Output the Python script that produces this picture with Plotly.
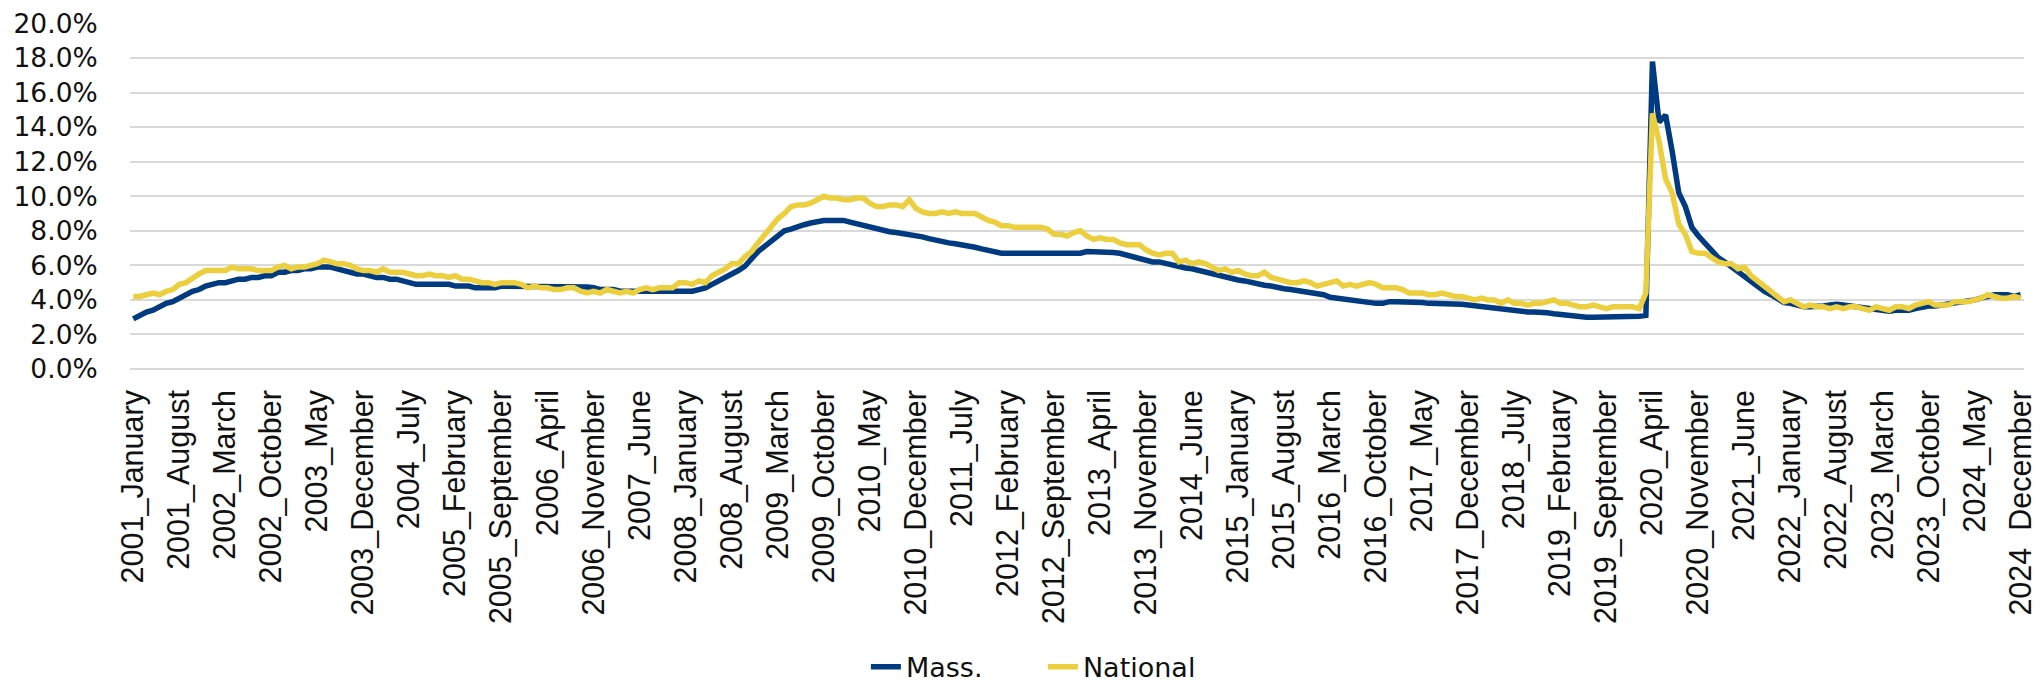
import plotly.graph_objects as go

# Axis categories
years = list(range(2001, 2025))
month_names = [
    "January", "February", "March", "April", "May", "June",
    "July", "August", "September", "October", "November", "December",
]

# Unemployment rate (%), one row per year, January..December
mass_rate = [
    2.9, 3.1, 3.3, 3.4, 3.6, 3.8, 3.9, 4.1, 4.3, 4.5, 4.6, 4.8,  # 2001
    4.9, 5.0, 5.0, 5.1, 5.2, 5.2, 5.3, 5.3, 5.4, 5.4, 5.6, 5.6,  # 2002
    5.7, 5.7, 5.8, 5.8, 5.9, 5.9, 5.9, 5.8, 5.7, 5.6, 5.5, 5.5,  # 2003
    5.4, 5.3, 5.3, 5.2, 5.2, 5.1, 5.0, 4.9, 4.9, 4.9, 4.9, 4.9,  # 2004
    4.9, 4.8, 4.8, 4.8, 4.7, 4.7, 4.7, 4.7, 4.8, 4.8, 4.8, 4.8,  # 2005
    4.75, 4.75, 4.75, 4.75, 4.75, 4.75, 4.75, 4.75, 4.75, 4.75, 4.7, 4.6,  # 2006
    4.6, 4.6, 4.5, 4.5, 4.5, 4.5, 4.5, 4.5, 4.5, 4.5, 4.5, 4.5,  # 2007
    4.5, 4.5, 4.6, 4.7, 4.9, 5.1, 5.25, 5.45, 5.7, 5.95, 6.4, 6.8,  # 2008
    7.1, 7.4, 7.7, 8.0, 8.1, 8.25, 8.35, 8.45, 8.55, 8.6, 8.6, 8.6,  # 2009
    8.6, 8.5, 8.4, 8.3, 8.2, 8.1, 8.0, 7.95, 7.9, 7.85, 7.8, 7.7,  # 2010
    7.65, 7.55, 7.45, 7.4, 7.3, 7.25, 7.2, 7.12, 7.05, 6.95, 6.85, 6.75,  # 2011
    6.7, 6.7, 6.7, 6.7, 6.7, 6.7, 6.7, 6.7, 6.7, 6.7, 6.7, 6.7,  # 2012
    6.7, 6.8, 6.8, 6.8, 6.8, 6.75, 6.7, 6.6, 6.5, 6.4, 6.3, 6.2,  # 2013
    6.2, 6.1, 6.0, 5.9, 5.85, 5.8, 5.7, 5.6, 5.5, 5.4, 5.3, 5.2,  # 2014
    5.15, 5.1, 5.0, 4.95, 4.85, 4.8, 4.7, 4.65, 4.6, 4.55, 4.5, 4.45,  # 2015
    4.4, 4.3, 4.15, 4.1, 4.0, 3.95, 3.9, 3.85, 3.8, 3.8, 3.8, 3.9,  # 2016
    3.9, 3.9, 3.9, 3.9, 3.85, 3.8, 3.8, 3.8, 3.8, 3.8, 3.75, 3.7,  # 2017
    3.65, 3.6, 3.6, 3.55, 3.5, 3.45, 3.4, 3.35, 3.3, 3.3, 3.3, 3.25,  # 2018
    3.2, 3.15, 3.1, 3.05, 3.0, 3.0, 3.0, 3.0, 3.0, 3.0, 3.0, 3.0,  # 2019
    3.0, 3.05, 3.1, 17.8, 14.3, 14.7, 12.6, 10.2, 9.4, 8.2, 7.7, 7.3,  # 2020
    6.8, 6.45, 6.2, 5.9, 5.6, 5.4, 5.1, 4.8, 4.5, 4.3, 4.1, 3.85,  # 2021
    3.8, 3.7, 3.6, 3.6, 3.6, 3.65, 3.7, 3.75, 3.7, 3.65, 3.65, 3.6,  # 2022
    3.55, 3.5, 3.4, 3.35, 3.4, 3.4, 3.4, 3.5, 3.6, 3.65, 3.65, 3.7,  # 2023
    3.75, 3.8, 3.85, 3.9, 4.0, 4.1, 4.2, 4.3, 4.3, 4.3, 4.2, 4.3,  # 2024
]

national_rate = [
    4.2, 4.2, 4.3, 4.4, 4.3, 4.5, 4.6, 4.9, 5.0, 5.3, 5.5, 5.7,  # 2001
    5.7, 5.7, 5.7, 5.9, 5.8, 5.8, 5.8, 5.7, 5.7, 5.7, 5.9, 6.0,  # 2002
    5.8, 5.9, 5.9, 6.0, 6.1, 6.3, 6.2, 6.1, 6.1, 6.0, 5.8, 5.7,  # 2003
    5.7, 5.6, 5.8, 5.6, 5.6, 5.6, 5.5, 5.4, 5.4, 5.5, 5.4, 5.4,  # 2004
    5.3, 5.4, 5.2, 5.2, 5.1, 5.0, 5.0, 4.9, 5.0, 5.0, 5.0, 4.9,  # 2005
    4.7, 4.8, 4.7, 4.7, 4.6, 4.6, 4.7, 4.7, 4.5, 4.4, 4.5, 4.4,  # 2006
    4.6, 4.5, 4.4, 4.5, 4.4, 4.6, 4.7, 4.6, 4.7, 4.7, 4.7, 5.0,  # 2007
    5.0, 4.9, 5.1, 5.0, 5.4, 5.6, 5.8, 6.1, 6.1, 6.5, 6.8, 7.3,  # 2008
    7.8, 8.3, 8.7, 9.0, 9.4, 9.5, 9.5, 9.6, 9.8, 10.0, 9.9, 9.9,  # 2009
    9.8, 9.8, 9.9, 9.9, 9.6, 9.4, 9.4, 9.5, 9.5, 9.4, 9.8, 9.3,  # 2010
    9.1, 9.0, 9.0, 9.1, 9.0, 9.1, 9.0, 9.0, 9.0, 8.8, 8.6, 8.5,  # 2011
    8.3, 8.3, 8.2, 8.2, 8.2, 8.2, 8.2, 8.1, 7.8, 7.8, 7.7, 7.9,  # 2012
    8.0, 7.7, 7.5, 7.6, 7.5, 7.5, 7.3, 7.2, 7.2, 7.2, 6.9, 6.7,  # 2013
    6.6, 6.7, 6.7, 6.2, 6.3, 6.1, 6.2, 6.1, 5.9, 5.7, 5.8, 5.6,  # 2014
    5.7, 5.5, 5.4, 5.4, 5.6, 5.3, 5.2, 5.1, 5.0, 5.0, 5.1, 5.0,  # 2015
    4.8, 4.9, 5.0, 5.1, 4.8, 4.9, 4.8, 4.9, 5.0, 4.9, 4.7, 4.7,  # 2016
    4.7, 4.6, 4.4, 4.4, 4.4, 4.3, 4.3, 4.4, 4.3, 4.2, 4.2, 4.1,  # 2017
    4.0, 4.1, 4.0, 4.0, 3.8, 4.0, 3.8, 3.8, 3.7, 3.8, 3.8, 3.9,  # 2018
    4.0, 3.8, 3.8, 3.7, 3.6, 3.6, 3.7, 3.6, 3.5, 3.6, 3.6, 3.6,  # 2019
    3.6, 3.5, 4.4, 14.8, 13.2, 11.0, 10.2, 8.4, 7.8, 6.8, 6.7, 6.7,  # 2020
    6.4, 6.2, 6.1, 6.1, 5.8, 5.9, 5.4, 5.1, 4.7, 4.5, 4.2, 3.9,  # 2021
    4.0, 3.8, 3.6, 3.7, 3.6, 3.6, 3.5, 3.6, 3.5, 3.6, 3.6, 3.5,  # 2022
    3.4, 3.6, 3.5, 3.4, 3.6, 3.6, 3.5, 3.7, 3.8, 3.9, 3.7, 3.7,  # 2023
    3.7, 3.9, 3.9, 3.9, 4.0, 4.1, 4.3, 4.2, 4.1, 4.1, 4.2, 4.1,  # 2024
]

MASS_COLOR = "#003A80"
NATIONAL_COLOR = "#ECCF3F"


def build_categories():
    """
    Category labels like 2001_January
    """
    return [f"{y}_{m}" for y in years for m in month_names]


def line_chart(categories, series):
    """
    series is a list of (name, values, color)
    """
    fig = go.Figure()
    for name, values, color in series:
        fig.add_trace(
            go.Scatter(
                x=categories,
                y=values,
                name=name,
                mode="lines",
                line=dict(color=color, width=5.5),
            )
        )
    return fig


categories = build_categories()

fig = line_chart(
    categories,
    [
        ("Mass.", mass_rate, MASS_COLOR),
        ("National", national_rate, NATIONAL_COLOR),
    ],
)

# Formatting - the page body adds an 8px margin, so the figure is 8px smaller
fig.update_layout(
    width=2033,
    height=675,
    margin=dict(l=122, r=17, t=15, b=314, autoexpand=False),
    plot_bgcolor="white",
    paper_bgcolor="white",
    showlegend=True,
    legend=dict(
        orientation="h",
        x=0.482,
        xanchor="center",
        y=-0.862,
        yanchor="middle",
        entrywidth=132,
        font=dict(family="DejaVu Sans", size=27, color="#111111"),
    ),
)

fig.update_xaxes(
    type="category",
    tickmode="array",
    tickvals=categories[::7],
    ticktext=categories[::7],
    tickangle=-90,
    tickfont=dict(family="Liberation Sans", size=30.5, color="#111111"),
    range=[-0.5, len(categories) - 0.5],
    showgrid=False,
    showline=False,
    ticks="",
    ticklabelstandoff=14,
    ticklabeloverflow="allow",
    automargin=False,
)

# range a hair above 20 so the top gridline is drawn
fig.update_yaxes(
    range=[0, 20.03],
    tick0=0,
    dtick=2,
    tickformat=".1f",
    ticksuffix="%",
    tickfont=dict(family="DejaVu Sans", size=26.5, color="#111111"),
    showgrid=True,
    gridcolor="#D9D9D9",
    gridwidth=1.5,
    zeroline=True,
    zerolinecolor="#D9D9D9",
    zerolinewidth=1.5,
    showline=False,
    ticks="outside",
    ticklen=26,
    tickcolor="rgba(0,0,0,0)",
    ticklabeloverflow="allow",
    automargin=False,
)

fig.write_html("out.html")
